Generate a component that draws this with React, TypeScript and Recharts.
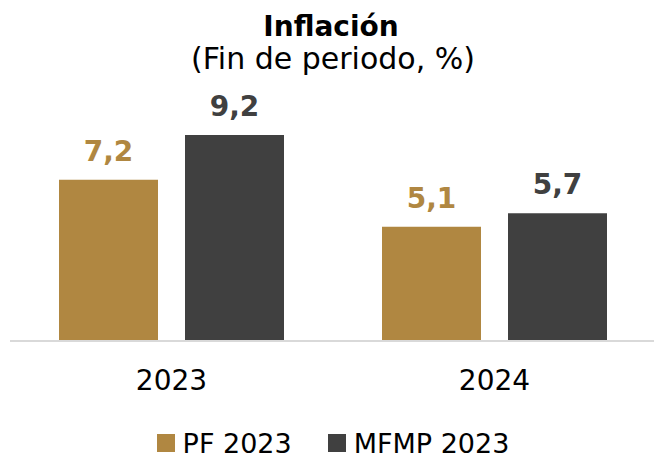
import React from "react";
import { BarChart, Bar, XAxis, YAxis, LabelList, Legend } from "recharts";

const categories = ["2023", "2024"];
const pf2023 = [7.2, 5.1];
const mfmp2023 = [9.2, 5.7];
const seriesNames = ["PF 2023", "MFMP 2023"];

const GOLD = "#B08741";
const DARK = "#404040";
const FONT = "'DejaVu Sans', sans-serif";

const data = categories.map((c, i) => ({ cat: c, pf: pf2023[i], mfmp: mfmp2023[i] }));

const fmt = (v: any) => String(v).replace(".", ",");

const LegendContent = () => (
  <div style={{ height: 40, boxSizing: "border-box", paddingTop: 10, display: "flex", justifyContent: "center", alignItems: "center", fontFamily: FONT, fontSize: 27, color: "#000" }}>
    <span style={{ display: "inline-block", width: 18, height: 18, background: GOLD, marginRight: 8 }} />
    <span style={{ marginRight: 36 }}>{seriesNames[0]}</span>
    <span style={{ display: "inline-block", width: 18, height: 18, background: DARK, marginRight: 8 }} />
    <span>{seriesNames[1]}</span>
  </div>
);

export default function App() {
  return (
    <div style={{ position: "absolute", left: 0, top: 0, width: 654, height: 458, background: "#fff" }}>
      <div style={{ position: "absolute", top: 9, left: 0, width: 662, textAlign: "center", fontFamily: FONT, fontWeight: "bold", fontSize: 28, color: "#000", lineHeight: "36px" }}>
        Inflación
      </div>
      <div style={{ position: "absolute", top: 40, left: 0, width: 666, textAlign: "center", fontFamily: FONT, fontSize: 30, color: "#000", lineHeight: "38px" }}>
        (Fin de periodo, %)
      </div>
      <BarChart width={654} height={458} data={data} margin={{ top: 117, right: -2, left: 10, bottom: 0 }} barGap={27}>
        <XAxis dataKey="cat" axisLine={{ stroke: "#D9D9D9", strokeWidth: 2 }} tickLine={false} tickSize={0} tickMargin={29} height={77}
          tick={{ fill: "#000", fontSize: 28, fontFamily: FONT }} />
        <YAxis hide domain={[0, 10]} />
        <Legend verticalAlign="bottom" height={40} content={<LegendContent />} />
        <Bar dataKey="pf" name={seriesNames[0]} fill={GOLD} barSize={99} isAnimationActive={false}>
          <LabelList dataKey="pf" position="top" offset={19} formatter={fmt} fill={GOLD} style={{ fontFamily: FONT, fontWeight: "bold", fontSize: 28 }} />
        </Bar>
        <Bar dataKey="mfmp" name={seriesNames[1]} fill={DARK} barSize={99} isAnimationActive={false}>
          <LabelList dataKey="mfmp" position="top" offset={19} formatter={fmt} fill={DARK} style={{ fontFamily: FONT, fontWeight: "bold", fontSize: 28 }} />
        </Bar>
      </BarChart>
    </div>
  );
}
